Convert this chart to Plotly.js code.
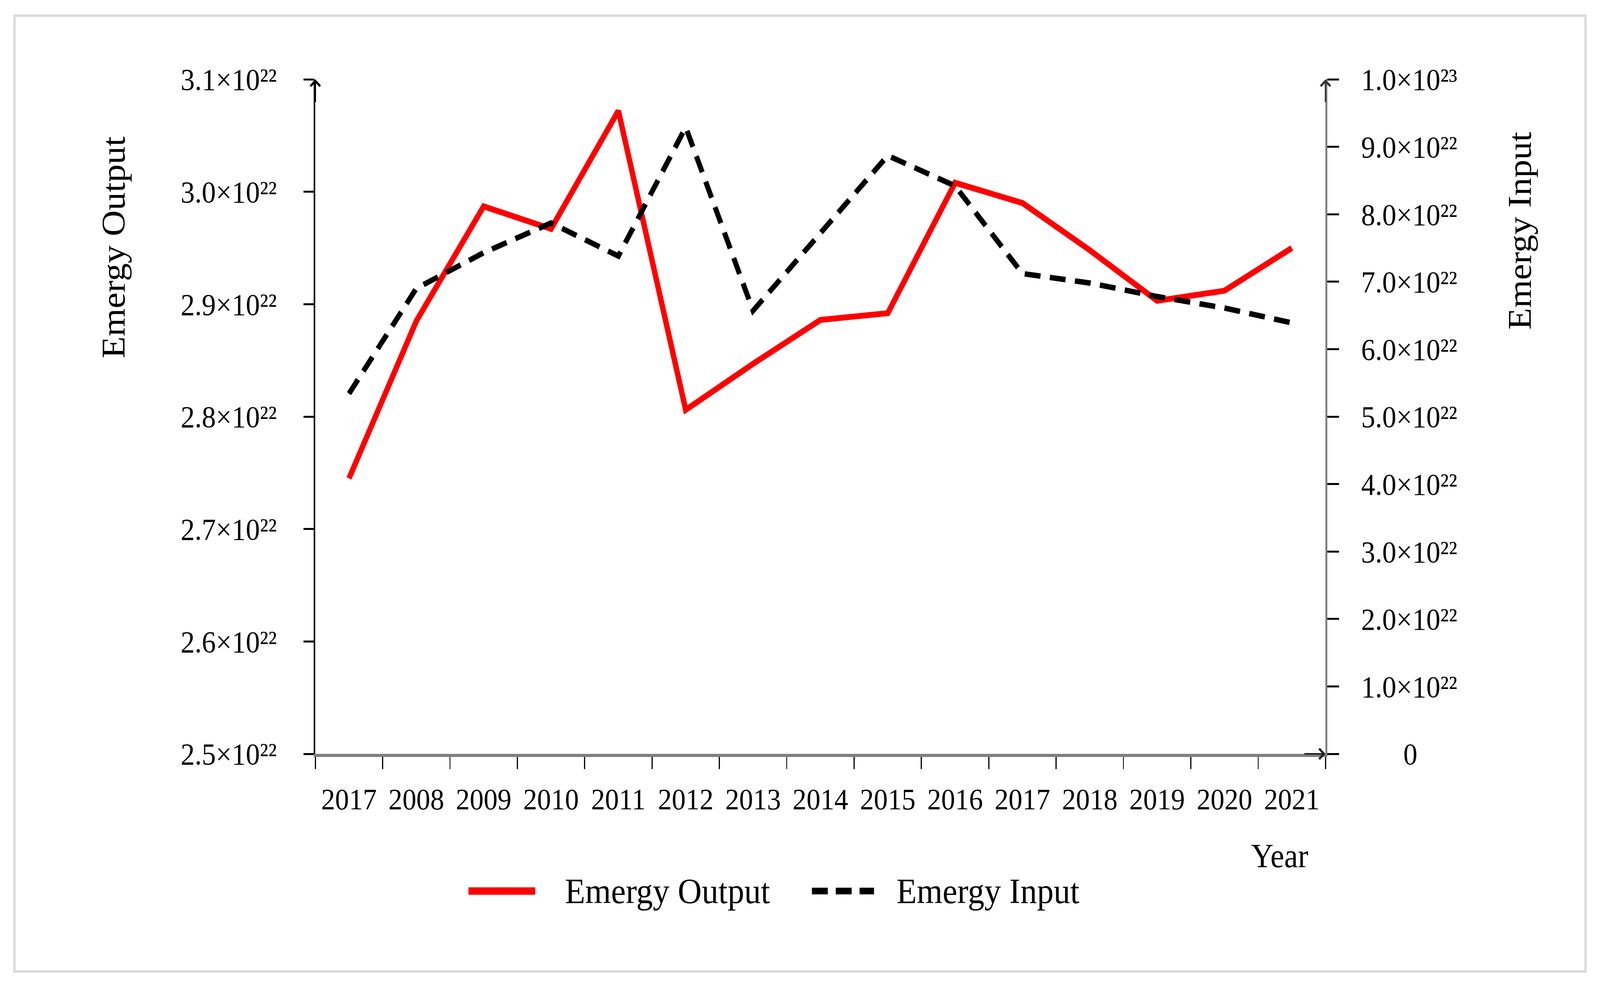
<!DOCTYPE html>
<html>
<head>
<meta charset="utf-8">
<script src="https://cdn.plot.ly/plotly-3.0.1.min.js"></script>
<style>
  html, body { margin: 0; padding: 0; background: #ffffff; overflow: hidden; }
  #chart { width: 4430px; height: 2523px; transform-origin: 0 0; }
</style>
</head>
<body>
<div id="chart"></div>
<script>
// ---- data ----
const years = ['2017', '2008', '2009', '2010', '2011', '2012', '2013', '2014', '2015', '2016', '2017', '2018', '2019', '2020', '2021'];
const emergyOutput = [2.745e22, 2.885e22, 2.987e22, 2.967e22, 3.072e22, 2.806e22, 2.847e22, 2.886e22, 2.892e22, 3.008e22, 2.990e22, 2.948e22, 2.903e22, 2.912e22, 2.950e22];
const emergyInput = [5.34e22, 6.90e22, 7.43e22, 7.87e22, 7.38e22, 9.29e22, 6.57e22, 7.71e22, 8.87e22, 8.42e22, 7.12e22, 6.98e22, 6.78e22, 6.61e22, 6.39e22];

const outputTickVals = [2.5e22, 2.6e22, 2.7e22, 2.8e22, 2.9e22, 3.0e22, 3.1e22];
const outputTickText = ['2.5×10²²', '2.6×10²²', '2.7×10²²', '2.8×10²²', '2.9×10²²', '3.0×10²²', '3.1×10²²'];
const inputTickVals = [0, 1e22, 2e22, 3e22, 4e22, 5e22, 6e22, 7e22, 8e22, 9e22, 1e23];
const inputTickText = ['\u00a0\u00a0\u00a0\u00a0\u00a0\u00a00', '1.0×10²²', '2.0×10²²', '3.0×10²²', '4.0×10²²', '5.0×10²²', '6.0×10²²', '7.0×10²²', '8.0×10²²', '9.0×10²²', '1.0×10²³'];

const seriesNames = ['Emergy Output', 'Emergy Input'];
const xTitle = 'Year';

// ---- layout geometry (pixels) ----
const W = 4430, H = 2523;
const L = 873, R = 3670, T = 203, B = 1929;
const pw = R - L, ph = B - T;
const px = v => (v - L) / pw;
const py = v => (B - v) / ph;

// fit the fixed-size chart into whatever viewport the page is given
const chartDiv = document.getElementById('chart');
const vw = window.innerWidth || document.documentElement.clientWidth || W;
const vh = window.innerHeight || document.documentElement.clientHeight || H;
const sx = vw / W, sy = vh / H;
if (Math.abs(sx - 1) > 0.002 || Math.abs(sy - 1) > 0.002) {
  chartDiv.style.transform = 'scale(' + sx + ',' + sy + ')';
}

const FONT = '"Liberation Serif", "Times New Roman", serif';
const idx = years.map((_, i) => i);
const bounds = years.map((_, i) => i - 0.5).concat([years.length - 0.5]);

const traces = [
  {
    x: idx, y: emergyOutput, name: seriesNames[0], type: 'scatter', mode: 'lines',
    line: { color: '#ff0000', width: 15 }, xaxis: 'x', yaxis: 'y'
  },
  {
    x: idx, y: emergyInput, name: seriesNames[1], type: 'scatter', mode: 'lines',
    line: { color: '#000000', width: 14, dash: '44px,26px' }, xaxis: 'x', yaxis: 'y2'
  }
];

const layout = {
  width: W, height: H,
  margin: { l: L, r: W - R, t: T, b: H - B, pad: 0 },
  paper_bgcolor: '#ffffff', plot_bgcolor: '#ffffff',
  showlegend: false,
  font: { family: FONT, size: 77, color: '#000000' },
  xaxis: {
    range: [-0.5, years.length - 0.5],
    tickmode: 'array', tickvals: idx, ticktext: years,
    ticks: '', showgrid: false, zeroline: false,
    showline: true, linecolor: '#7f7f7f', linewidth: 8,
    tickfont: { family: FONT, size: 77, color: '#000' },
    ticklabelstandoff: 42,
    minor: { tickmode: 'array', tickvals: bounds, ticks: 'outside', ticklen: 31, tickwidth: 3, tickcolor: '#000', showgrid: false },
    fixedrange: true
  },
  yaxis: {
    range: [2.5e22, 3.1e22],
    tickmode: 'array', tickvals: outputTickVals, ticktext: outputTickText,
    ticks: 'outside', ticklen: 28, tickwidth: 5, tickcolor: '#000',
    showline: true, linecolor: '#000', linewidth: 5,
    showgrid: false, zeroline: false,
    tickfont: { family: FONT, size: 78, color: '#000' },
    ticklabelstandoff: 58,
    fixedrange: true
  },
  yaxis2: {
    range: [0, 1e23], overlaying: 'y', side: 'right', anchor: 'x',
    tickmode: 'array', tickvals: inputTickVals, ticktext: inputTickText,
    ticks: 'outside', ticklen: 32, tickwidth: 5, tickcolor: '#000',
    showline: true, linecolor: '#7f7f7f', linewidth: 5,
    showgrid: false, zeroline: false,
    tickfont: { family: FONT, size: 78, color: '#000' },
    ticklabelstandoff: 46,
    fixedrange: true
  },
  shapes: [
    // outer frame
    { type: 'rect', xref: 'paper', yref: 'paper', x0: px(40), x1: px(4390), y0: py(2486), y1: py(40),
      line: { color: '#d9d9d9', width: 6 }, fillcolor: 'rgba(0,0,0,0)', layer: 'below' },
    // legend samples
    { type: 'line', xref: 'paper', yref: 'paper', x0: px(1297), x1: px(1482), y0: py(2280), y1: py(2280),
      line: { color: '#ff0000', width: 19 } },
    { type: 'line', xref: 'paper', yref: 'paper', x0: px(2248), x1: px(2420), y0: py(2280), y1: py(2280),
      line: { color: '#000000', width: 17, dash: '44px,22px' } }
  ],
  annotations: [
    { text: seriesNames[0], xref: 'paper', yref: 'paper', x: px(314), y: py(633), textangle: -90,
      showarrow: false, xanchor: 'center', yanchor: 'middle', font: { family: FONT, size: 92, color: '#000' } },
    { text: seriesNames[1], xref: 'paper', yref: 'paper', x: px(4208), y: py(591), textangle: -90,
      showarrow: false, xanchor: 'center', yanchor: 'middle', font: { family: FONT, size: 92, color: '#000' } },
    { text: xTitle, xref: 'paper', yref: 'paper', x: px(3543), y: py(2190),
      showarrow: false, xanchor: 'center', yanchor: 'middle', font: { family: FONT, size: 86, color: '#000' } },
    { text: seriesNames[0], xref: 'paper', yref: 'paper', x: px(1562), y: py(2280),
      showarrow: false, xanchor: 'left', yanchor: 'middle', font: { family: FONT, size: 92, color: '#000' } },
    { text: seriesNames[1], xref: 'paper', yref: 'paper', x: px(2480), y: py(2280),
      showarrow: false, xanchor: 'left', yanchor: 'middle', font: { family: FONT, size: 92, color: '#000' } },
    // axis arrows
    { text: '', xref: 'paper', yref: 'paper', x: 0, y: 1, ax: 0, ay: 60, showarrow: true,
      arrowhead: 4, arrowsize: 1.3, arrowwidth: 4, arrowcolor: '#000', standoff: 0 },
    { text: '', xref: 'paper', yref: 'paper', x: 1, y: 1, ax: 0, ay: 60, showarrow: true,
      arrowhead: 4, arrowsize: 1.3, arrowwidth: 4, arrowcolor: '#333', standoff: 0 },
    { text: '', xref: 'paper', yref: 'paper', x: 1, y: 0, ax: -60, ay: 0, showarrow: true,
      arrowhead: 4, arrowsize: 1.3, arrowwidth: 4, arrowcolor: '#222', standoff: 0 }
  ]
};

Plotly.newPlot(chartDiv, traces, layout, { staticPlot: true, displayModeBar: false });
</script>
</body>
</html>
